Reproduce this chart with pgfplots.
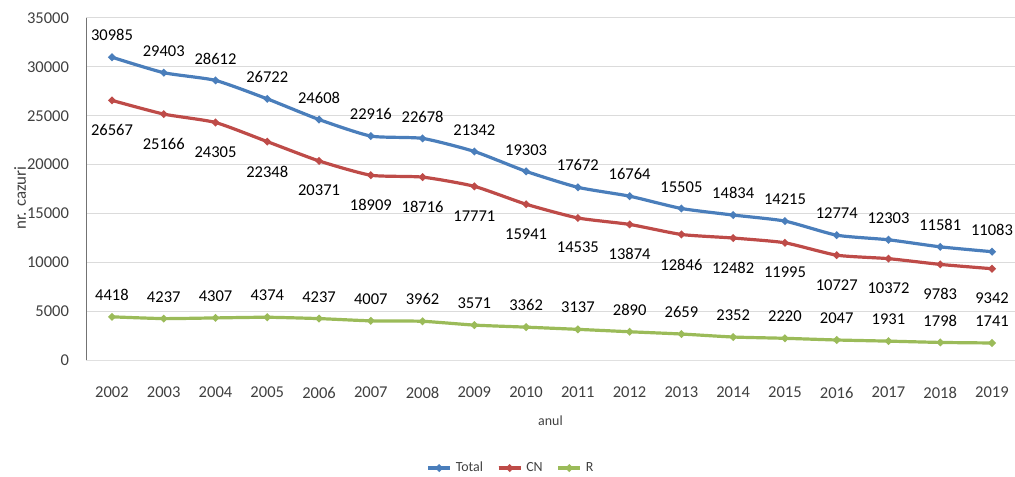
\documentclass[border=0pt]{standalone}
\usepackage{pgfplots}
\pgfplotsset{compat=1.18}
\usepackage{fontspec}
\setmainfont{Carlito}
\definecolor{cTotal}{HTML}{4A7EBB}
\definecolor{cCN}{HTML}{BE4B48}
\definecolor{cR}{HTML}{9BBB59}
\definecolor{tickgray}{HTML}{404040}
\begin{document}
\begin{tikzpicture}
\begin{axis}[
  scale only axis,
  width=464.5bp, height=171bp,
  xmin=2001.498, xmax=2019.444,
  ymin=0, ymax=35000,
  ytick={0,5000,...,35000},
  xtick={2002,...,2019},
  /pgf/number format/assume math mode=true,
  xticklabel={\pgfmathprintnumber[1000 sep={},fixed]{\tick}},
  yticklabel={\pgfmathprintnumber[1000 sep={},fixed]{\tick}},
  scaled y ticks=false,
  major tick length=0pt,
  tick label style={font=\fontsize{8.3}{10}\selectfont, text=tickgray},
  yticklabel style={xshift=-5bp},
  xticklabel style={yshift=-10bp},
  axis x line*=bottom,
  axis y line*=left,
  x axis line style={draw=black!12},
  y axis line style={draw=black!55},
  ymajorgrids,
  grid style={draw=black!14, line width=0.5bp},
  xlabel={anul},
  xlabel style={font=\fontsize{7}{9}\selectfont, text=tickgray, yshift=-2bp},
  ylabel={nr. cazuri},
  ylabel style={font=\fontsize{8.5}{10}\selectfont, text=tickgray},
  every axis y label/.append style={at={(-33bp,81bp)}, anchor=center, rotate=0},
  legend style={at={(0.4586,-0.316)}, anchor=center, draw=none, fill=none,
    legend columns=-1, font=\fontsize{7}{9}\selectfont, text=tickgray,
    /tikz/every even column/.append style={column sep=5bp}},
  legend image code/.code={\draw[#1] (0bp,0bp) -- (11bp,0bp); \draw[#1, mark repeat=2, mark phase=2] plot coordinates {(0bp,0bp) (5.5bp,0bp) (11bp,0bp)};},
  nodes near coords,
  every node near coord/.append style={font=\fontsize{8.3}{10}\selectfont, text=black},
  point meta=explicit symbolic,
  clip=false,
]
\addplot[color=cTotal, line width=1.6bp, mark=*, mark size=0.9bp, smooth, tension=0.35,
  every node near coord/.append style={anchor=south, yshift=4bp}]
  table[meta=y] {
x y
2002 30985
2003 29403
2004 28612
2005 26722
2006 24608
2007 22916
2008 22678
2009 21342
2010 19303
2011 17672
2012 16764
2013 15505
2014 14834
2015 14215
2016 12774
2017 12303
2018 11581
2019 11083
};
\addlegendentry{Total}
\addplot[color=cCN, line width=1.6bp, mark=*, mark size=0.9bp, smooth, tension=0.35,
  every node near coord/.append style={anchor=north, yshift=-8bp}]
  table[meta=y] {
x y
2002 26567
2003 25166
2004 24305
2005 22348
2006 20371
2007 18909
2008 18716
2009 17771
2010 15941
2011 14535
2012 13874
2013 12846
2014 12482
2015 11995
2016 10727
2017 10372
2018 9783
2019 9342
};
\addlegendentry{CN}
\addplot[color=cR, line width=1.6bp, mark=*, mark size=0.9bp, smooth, tension=0.35,
  every node near coord/.append style={anchor=south, yshift=4bp}]
  table[meta=y] {
x y
2002 4418
2003 4237
2004 4307
2005 4374
2006 4237
2007 4007
2008 3962
2009 3571
2010 3362
2011 3137
2012 2890
2013 2659
2014 2352
2015 2220
2016 2047
2017 1931
2018 1798
2019 1741
};
\addlegendentry{R}
\end{axis}
\pgfresetboundingbox
\path[use as bounding box] (-43bp,-58.5bp) rectangle (464.5bp,180bp);
\end{tikzpicture}
\end{document}
